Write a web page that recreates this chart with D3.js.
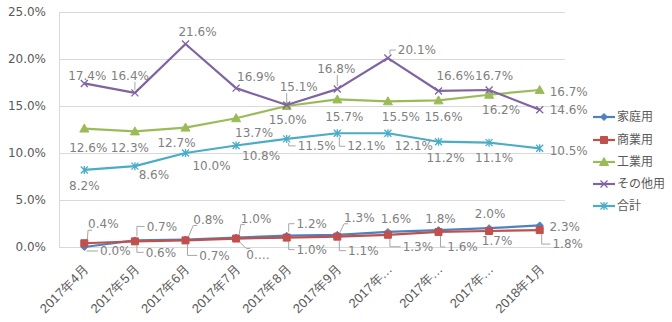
<!DOCTYPE html>
<html><head><meta charset="utf-8">
<script src="https://cdn.jsdelivr.net/npm/d3@7"></script>
<style>
html,body{margin:0;padding:0;background:#fff;}
svg{display:block;font-family:"DejaVu Sans","Noto Sans CJK JP",sans-serif;}
</style></head>
<body><svg id="c" width="672" height="322"></svg>
<script>
const categories = ["2017年4月","2017年5月","2017年6月","2017年7月","2017年8月","2017年9月","2017年10月","2017年11月","2017年12月","2018年1月"];
const tickLabels = ["2017年4月","2017年5月","2017年6月","2017年7月","2017年8月","2017年9月","2017年…","2017年…","2017年…","2018年1月"];
const yTicks = [0,5,10,15,20,25];
const seriesNames = ["家庭用","商業用","工業用","その他用","合計"];
const household  = [0.0,0.7,0.8,1.0,1.2,1.3,1.6,1.8,2.0,2.3];
const commercial = [0.4,0.6,0.7,0.9,1.0,1.1,1.3,1.6,1.7,1.8];
const industrial = [12.6,12.3,12.7,13.7,15.0,15.7,15.5,15.6,16.2,16.7];
const other      = [17.4,16.4,21.6,16.9,15.1,16.8,20.1,16.6,16.7,14.6];
const total      = [8.2,8.6,10.0,10.8,11.5,12.1,12.1,11.2,11.1,10.5];
// label texts truncated in the picture
const truncated = {"商業用":{3:"0.…"}};

// styling / label placement (not data)
const colors = ["#4F81BD","#C0504D","#9BBB59","#8064A2","#4BACC6"];
const markers = ["diamond","square","triangle","x","star"];
const labelOff = [
  [[31,4],[27,-14],[23,-20],[20,-19],[25,-12],[22,-17],[8,-13],[2,-11],[1,-14],[25,1]],
  [[19,-19],[26,11],[29,15],[22,16],[25,12],[26,14],[30,12],[24,15],[8,10],[28,14]],
  [[4,19],[-5,16],[-9,15],[18,15],[1,14],[7,17],[13,15],[5,16],[12,15],[29,2]],
  [[3,-8],[-5,-17],[12,-12],[20,-11],[12,-18],[-1,-20],[29,-8],[17,-15],[5,-14],[29,0]],
  [[0,16],[19,9],[26,13],[25,10],[30,7],[29,13],[26,13],[7,16],[5,15],[29,2]]
];
const leaders = [
  ["L","L","D","D","L","D",null,null,null,null],
  ["D","L","L","D","L","L","L","L",null,"L"],
  [null,null,null,null,null,null,null,null,null,null],
  [null,"D",null,null,"D","D","L",null,null,null],
  [null,null,null,null,"L","L",null,null,null,null]
];

const seriesData = [household, commercial, industrial, other, total];
const svg = d3.select("#c");
const pLeft = 59, pRight = 565, pTop = 12, pBottom = 247;
const x = d3.scaleBand().domain(categories).range([pLeft, pRight]);
const y = d3.scaleLinear().domain([0, 25]).range([pBottom, pTop]);
const px = i => x(categories[i]) + x.bandwidth() / 2;

// gridlines
svg.append("g").selectAll("line").data(yTicks).join("line")
  .attr("x1", pLeft).attr("x2", pRight)
  .attr("y1", d => y(d)).attr("y2", d => y(d))
  .attr("stroke", "#d9d9d9").attr("stroke-width", 1).attr("shape-rendering","crispEdges");
svg.append("line").attr("x1", pLeft).attr("x2", pLeft).attr("y1", y(25)).attr("y2", y(0))
  .attr("stroke", "#d9d9d9").attr("shape-rendering","crispEdges");

// y axis labels
const yAxis = d3.axisLeft(y).tickValues(yTicks).tickFormat(d => d3.format(".1f")(d) + "%").tickSize(0).tickPadding(13);
const gy = svg.append("g").attr("transform", `translate(${pLeft},0)`).call(yAxis);
gy.select(".domain").remove();
gy.selectAll("text").attr("fill", "#595959").style("font-size", "12px").style("font-family",'"DejaVu Sans",sans-serif');

// x axis labels
const xAxis = d3.axisBottom(x).tickFormat((d, i) => tickLabels[i]).tickSize(0);
const gx = svg.append("g").attr("transform", `translate(0,${pBottom})`).call(xAxis);
gx.select(".domain").remove();
gx.selectAll("text").attr("fill", "#595959").style("font-size", "13px")
  .attr("text-anchor", "end").attr("dy", null).attr("y", 0)
  .attr("transform", "translate(5,23) rotate(-45)");

// marker shapes
function markerPath(type) {
  switch (type) {
    case "diamond": return "M0,-3.5L3.5,0L0,3.5L-3.5,0Z";
    case "square": return "M-3.5,-3.5H3.5V3.5H-3.5Z";
    case "triangle": return "M0,-4.5L4.5,3.5H-4.5Z";
    case "x": return "M-3.5,-3.5L3.5,3.5M-3.5,3.5L3.5,-3.5";
    case "star": return "M-3.5,-3.5L3.5,3.5M-3.5,3.5L3.5,-3.5M0,-4V4";
  }
}
function drawMarker(g, type, color, cx, cy) {
  const filled = ["diamond","square","triangle"].includes(type);
  g.append("path").attr("d", markerPath(type)).attr("transform", `translate(${cx},${cy})`)
    .attr("fill", filled ? color : "none").attr("stroke", color).attr("stroke-width", filled ? 1 : 1.3);
}

const line = d3.line().x((d, i) => px(i)).y(d => y(d));
const leaderG = svg.append("g");
const seriesG = svg.append("g");
const labelG = svg.append("g");

seriesData.forEach((vals, s) => {
  const g = seriesG.append("g");
  g.append("path").datum(vals).attr("d", line).attr("fill", "none")
    .attr("stroke", colors[s]).attr("stroke-width", 2.2).attr("stroke-linejoin","round");
  vals.forEach((v, i) => drawMarker(g, markers[s], colors[s], px(i), y(v)));
});

seriesData.forEach((vals, s) => {
  vals.forEach((v, i) => {
    const p = [px(i), y(v)];
    const [dx, dy] = labelOff[s][i];
    const cx = p[0] + dx, cy = p[1] + dy;
    const tr = truncated[seriesNames[s]];
    const txt = (tr && tr[i]) ? tr[i] : d3.format(".1f")(v) + "%";
    const t = labelG.append("text").attr("x", cx).attr("y", cy).attr("dy", "0.35em")
      .attr("text-anchor", "middle").attr("fill", "#808080").style("font-size", "12px").text(txt);
    const w = t.node().getComputedTextLength();
    const lx0 = cx - w / 2;
    const type = leaders[s][i];
    if (type === "L") {
      const sg = dy < 0 ? -1 : 1;
      leaderG.append("path")
        .attr("d", `M${p[0] + 2},${p[1] + sg * 4}V${cy}H${lx0 - 2}`)
        .attr("fill", "none").attr("stroke", "#a6a6a6").attr("stroke-width", 1);
    } else if (type === "D") {
      const ty = cy + (dy < 0 ? 6 : -6);
      let tx = Math.max(lx0, Math.min(p[0], cx + w / 2));
      leaderG.append("path")
        .attr("d", `M${p[0] + (tx > p[0] ? 3 : tx < p[0] ? -3 : 0)},${p[1] + (dy < 0 ? -3 : 3)}L${tx},${ty}` + (tx === lx0 ? `H${lx0 + 4}` : ""))
        .attr("fill", "none").attr("stroke", "#a6a6a6").attr("stroke-width", 1);
    }
  });
});

// legend
const legendY = [117, 140, 162, 184, 206];
const lg = svg.append("g");
seriesNames.forEach((name, s) => {
  const ly = legendY[s];
  lg.append("line").attr("x1", 593).attr("x2", 615).attr("y1", ly).attr("y2", ly)
    .attr("stroke", colors[s]).attr("stroke-width", 2.2);
  drawMarker(lg, markers[s], colors[s], 604, ly);
  lg.append("text").attr("x", 617).attr("y", ly).attr("dy", "0.35em")
    .attr("fill", "#595959").style("font-size", "12px").text(name);
});
</script></body></html>
